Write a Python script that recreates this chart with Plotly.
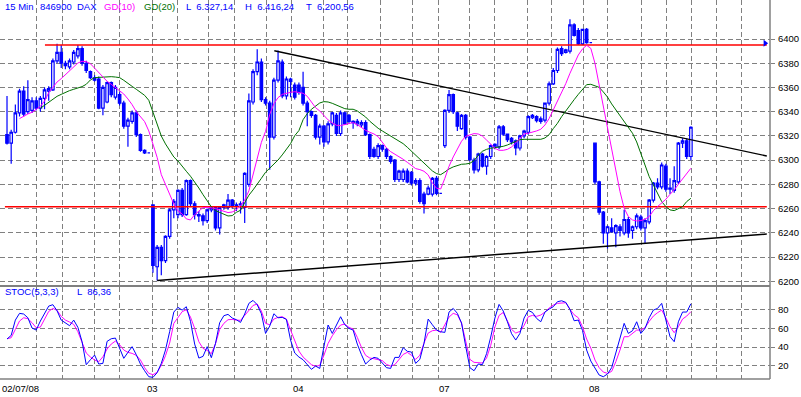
import plotly.graph_objects as go

# ---------------- DATA ----------------
# 15-min DAX candles, (open, high, low, close) per bar, grouped by trading day
day_0207 = [
    (6321, 6353, 6313, 6314), (6314, 6325, 6297, 6323), (6323, 6346, 6322, 6339), (6339, 6359, 6336, 6357),
    (6357, 6361, 6336, 6338), (6340, 6366, 6338, 6350), (6341, 6352, 6339, 6349), (6349, 6352, 6341, 6343),
    (6343, 6353, 6340, 6351), (6351, 6360, 6342, 6358), (6357, 6361, 6349, 6359), (6358, 6384, 6357, 6382),
    (6382, 6396, 6380, 6389), (6389, 6395, 6376, 6380), (6380, 6382, 6375, 6378), (6377, 6384, 6375, 6382),
    (6381, 6391, 6379, 6389), (6386, 6395, 6384, 6392), (6392, 6394, 6378, 6380), (6380, 6382, 6372, 6374),
    (6373, 6374, 6367, 6368), (6368, 6370, 6365, 6366), (6367, 6369, 6342, 6343), (6343, 6362, 6337, 6360),
    (6348, 6365, 6347, 6364), (6364, 6365, 6352, 6354), (6352, 6362, 6350, 6360), (6354, 6356, 6345, 6347),
    (6347, 6349, 6326, 6328), (6328, 6335, 6311, 6333), (6332, 6341, 6330, 6339), (6339, 6341, 6319, 6321),
    (6321, 6322, 6307, 6308), (6308, 6309, 6305, 6306), (6306, 6306, 6306, 6306),
]
day_0307 = [
    (6263, 6263, 6207, 6213), (6212, 6230, 6200.56, 6228), (6228, 6230, 6205, 6217), (6217, 6238, 6215, 6237),
    (6237, 6260, 6235, 6259), (6259, 6268, 6252, 6266), (6255, 6276, 6252, 6275), (6275, 6277, 6253, 6255),
    (6255, 6284, 6254, 6283), (6283, 6284, 6262, 6264), (6264, 6266, 6251, 6255), (6255, 6258, 6249, 6254),
    (6254, 6256, 6246, 6250), (6250, 6260, 6248, 6259), (6259, 6262, 6257, 6261), (6261, 6262, 6242, 6244),
    (6244, 6262, 6238.6, 6261), (6261, 6264, 6259, 6263), (6261, 6272, 6259, 6267), (6267, 6268, 6260, 6262),
    (6262, 6265, 6258, 6263), (6263, 6266, 6256, 6264), (6261, 6290, 6248, 6289), (6280, 6355, 6278, 6349),
    (6348, 6375, 6346, 6373), (6373, 6391.5, 6370, 6381), (6381, 6384, 6348, 6350), (6350, 6352, 6345, 6347),
    (6347, 6349, 6292, 6319), (6319, 6368, 6317, 6366), (6366, 6390.5, 6364, 6382), (6381, 6383, 6351, 6353),
    (6353, 6369, 6350, 6367), (6367, 6368, 6352, 6365), (6362, 6364, 6350, 6352),
]
day_0407 = [
    (6362, 6364, 6354, 6356), (6360, 6373, 6345, 6347), (6347, 6349, 6328, 6340), (6340, 6341, 6335, 6337),
    (6337, 6338, 6317, 6319), (6319, 6330, 6313, 6328), (6328, 6329, 6311, 6315), (6315, 6332, 6313, 6330),
    (6330, 6340, 6328, 6339), (6337, 6339, 6320, 6322), (6322, 6341, 6320, 6339), (6339, 6340, 6329, 6330),
    (6337, 6338, 6330, 6332), (6332, 6333, 6326, 6331), (6330, 6334, 6328, 6332), (6329, 6333, 6327, 6331),
    (6331, 6333, 6320, 6321), (6321, 6322, 6301, 6303), (6309, 6311, 6302, 6303), (6303, 6314, 6301, 6312),
    (6312, 6313, 6307, 6309), (6309, 6310, 6301, 6303), (6303, 6304, 6297, 6299), (6300, 6301, 6282, 6284),
    (6284, 6292, 6282, 6291), (6284, 6293, 6282, 6291), (6291, 6293, 6281, 6282), (6290, 6291, 6279, 6281),
    (6281, 6285, 6279, 6283), (6283, 6285, 6264, 6266), (6272, 6274, 6256, 6264), (6272, 6279, 6271, 6277),
    (6272, 6286, 6270, 6285), (6285, 6287, 6271, 6272.5), (6272.5, 6272.5, 6272.5, 6272.5),
]
day_0707 = [
    (6312, 6342, 6310, 6341), (6341, 6358, 6339, 6354), (6354, 6355, 6338, 6340), (6339, 6340, 6324, 6328),
    (6326, 6338, 6325, 6337), (6337, 6338, 6317, 6319), (6319, 6320, 6299, 6300.5), (6300, 6302, 6289, 6292),
    (6292, 6306, 6290, 6305), (6305, 6306, 6294, 6295), (6295, 6304, 6288, 6303), (6303, 6313, 6301, 6312),
    (6311, 6314, 6309, 6313), (6311, 6329, 6309, 6327.5), (6327.5, 6329, 6320, 6321.5), (6321.5, 6322, 6315, 6317),
    (6318, 6319, 6313, 6315), (6316, 6317, 6304, 6310), (6310, 6321, 6308, 6320), (6320, 6325, 6318, 6324),
    (6323, 6337, 6321, 6336), (6335, 6338, 6334, 6337), (6336, 6337, 6331, 6332.5), (6334, 6336, 6330, 6332),
    (6333, 6347, 6331, 6347), (6347, 6365, 6345, 6363), (6363, 6376, 6362, 6374), (6374, 6393, 6372, 6391.5),
    (6392, 6394, 6386, 6388), (6389, 6392, 6388, 6391), (6390, 6416.24, 6388, 6411.6), (6411.6, 6413, 6402, 6403),
    (6407, 6409, 6395, 6396), (6396, 6408.5, 6395, 6408), (6408, 6409, 6396, 6397), (6397, 6397, 6397, 6397),
]
day_0807 = [
    (6314, 6314, 6280, 6282), (6282, 6283, 6255, 6257), (6257, 6258, 6231, 6240), (6240, 6246, 6227, 6245),
    (6244, 6252, 6240, 6241), (6240, 6247, 6228, 6246), (6245, 6247, 6237, 6242), (6240, 6259, 6238, 6251),
    (6251, 6253, 6236, 6240), (6242, 6246, 6235, 6245), (6245, 6256, 6243, 6254), (6253, 6255, 6242, 6244),
    (6244, 6252, 6231, 6250), (6249, 6268, 6247, 6267), (6267, 6282, 6265, 6281), (6281, 6285, 6276, 6278),
    (6278, 6298, 6276, 6296), (6295, 6297, 6274, 6276), (6276, 6285, 6272, 6277), (6275, 6295, 6273, 6283),
    (6282, 6315, 6280, 6314), (6314, 6318, 6310, 6316), (6316, 6318, 6301, 6303), (6303, 6328, 6300, 6327.14),
]
days = [("02/07/08", day_0207), ("03", day_0307), ("04", day_0407), ("07", day_0707), ("08", day_0807)]

# GD(10) and GD(20) moving averages as drawn (None where not drawn)
gd10 = [None] * 3 + [
    6334.3, 6336.5, 6338.1, 6339.5, 6341.7, 6344.4, 6348.8, 6355.7, 6360.1, 6364.5, 6367.3, 6370.6, 6374.4,
    6377.7, 6380.2, 6381.6, 6381.3, 6379.6, 6376.1, 6372.2, 6368.4, 6365.1, 6362.6, 6360.1, 6357.6, 6354.6,
    6350.5, 6345.8, 6340.0, 6335.9, 6331.8, 6324.1, 6313.9, 6302.3, 6288.0, 6279.8, 6271.0, 6263.8, 6258.1,
    6255.6, 6251.5, 6250.6, 6255.0, 6258.3, 6260.8, 6261.1, 6260.8, 6260.0, 6258.9, 6257.8, 6256.7, 6257.2,
    6258.9, 6262.5, 6267.1, 6274.6, 6288.3, 6301.5, 6314.7, 6323.8, 6337.8, 6346.6, 6351.6, 6354.3, 6355.4,
    6356.0, 6356.5, 6355.7, 6355.2, 6352.7, 6348.3, 6343.3, 6340.6, 6336.5, 6333.2, 6330.7, 6328.8, 6328.5,
    6329.3, 6330.1, 6331.0, 6329.3, 6326.8, 6324.6, 6323.0, 6321.6, 6319.4, 6314.5, 6310.1, 6307.0, 6305.0,
    6303.4, 6300.7, 6298.2, 6295.5, 6293.0, 6292.2, 6290.8, 6287.8, 6281.2, 6276.8, 6276.2, 6285.0, 6294.9,
    6302.6, 6309.5, 6315.6, 6319.7, 6320.8, 6321.9, 6321.6, 6319.9, 6316.6, 6312.8, 6309.8, 6308.1, 6308.1,
    6308.9, 6310.9, 6314.2, 6318.0, 6321.6, 6322.2, 6323.0, 6324.1, 6325.5, 6329.0, 6334.3, 6341.4, 6348.3,
    6355.2, 6363.2, 6371.7, 6379.4, 6386.8, 6391.8, 6394.8, 6392.3, 6379.9, 6362.1, 6344.1, 6326.3, 6308.4,
    6290.5, 6274.0, 6260.3, 6253.4, 6250.6, 6249.8, 6250.1, 6251.2, 6253.4, 6258.3, 6261.6, 6264.4, 6267.7,
    6271.8, 6275.4, 6280.1, 6284.2, 6289.1, 6293.3,
]
gd20 = [None] * 8 + [
    6342.8, 6345.3, 6348.0, 6350.8, 6352.7, 6354.3, 6356.0, 6357.4, 6358.5, 6359.6, 6360.7, 6362.6, 6366.2,
    6368.1, 6368.4, 6368.6, 6368.9, 6368.9, 6368.6, 6368.1, 6365.9, 6363.1, 6360.9, 6358.5, 6356.3, 6353.5,
    6349.4, 6339.8, 6329.6, 6319.9, 6313.4, 6307.6, 6302.6, 6299.3, 6295.5, 6290.8, 6286.7, 6282.3, 6277.0,
    6271.5, 6266.9, 6261.4, 6258.3, 6256.7, 6255.3, 6253.9, 6254.2, 6256.9, 6258.6, 6265.2, 6271.0, 6275.4,
    6279.8, 6285.0, 6290.0, 6293.5, 6296.3, 6300.1, 6304.3, 6309.5, 6313.6, 6320.2, 6324.4, 6333.4, 6338.4,
    6342.0, 6345.0, 6347.2, 6348.3, 6348.0, 6346.9, 6345.5, 6344.2, 6342.5, 6342.0, 6342.0, 6340.6, 6338.4,
    6335.6, 6332.1, 6328.8, 6326.3, 6324.1, 6321.9, 6319.7, 6317.8, 6315.8, 6313.6, 6310.6, 6307.3, 6304.0,
    6300.4, 6297.1, 6293.8, 6291.1, 6288.9, 6288.0, 6290.2, 6292.7, 6294.4, 6295.5, 6296.6, 6296.8, 6297.4,
    6299.6, 6304.0, 6307.3, 6308.9, 6309.8, 6310.3, 6310.9, 6311.4, 6312.5, 6313.9, 6315.5, 6316.9, 6317.2,
    6317.2, 6317.2, 6317.2, 6317.2, 6318.3, 6321.0, 6326.0, 6330.4, 6335.9, 6340.9, 6345.8, 6349.9, 6354.3,
    6358.7, 6362.3, 6362.6, 6361.5, 6360.1, 6356.3, 6352.1, 6346.4, 6341.7, 6336.7, 6332.3, 6327.1, 6322.2,
    6315.0, 6305.4, 6294.6, 6286.4, 6279.5, 6272.6, 6265.8, 6261.6, 6258.9, 6258.3, 6259.7, 6261.6, 6265.8,
    6268.5,
]

# STOC(5,3,3): %K (blue) and %D (magenta)
stoc_k = [
    48.6, 52.5, 68.9, 76.1, 75.4, 71.4, 60.4, 58.2, 67.9, 76.8, 83.9, 85.4, 78.9, 68.9, 65.4, 62.9, 68.9, 61.1,
    45.7, 21.1, 26.4, 31.4, 21.8, 22.5, 46.1, 48.9, 49.6, 38.6, 27.9, 34.3, 40.4, 31.8, 21.8, 14.6, 8.2, 7.5,
    12.5, 22.5, 36.8, 56.4, 77.5, 82.5, 79.6, 83.2, 67.5, 43.2, 28.2, 30.0, 40.4, 28.6, 43.9, 66.1, 73.6, 75.0,
    71.1, 69.3, 66.4, 75.4, 86.8, 90.0, 85.4, 75.7, 54.6, 62.5, 75.7, 71.4, 71.8, 69.6, 47.5, 33.6, 29.3, 26.4,
    21.4, 16.1, 19.6, 17.1, 40.4, 63.6, 54.6, 64.3, 72.5, 64.0, 60.0, 58.2, 43.2, 31.8, 21.8, 26.1, 28.9, 27.9,
    22.5, 17.9, 17.1, 28.9, 28.9, 39.3, 35.4, 34.6, 22.5, 26.8, 43.9, 70.0, 63.9, 58.2, 56.4, 55.7, 77.5, 81.4,
    76.1, 65.7, 40.7, 17.9, 14.6, 21.8, 21.1, 32.9, 50.7, 71.1, 85.7, 78.6, 67.1, 54.3, 47.5, 54.6, 71.1, 79.3,
    77.1, 70.7, 67.1, 77.5, 80.7, 83.2, 88.6, 89.6, 87.9, 80.4, 68.2, 68.9, 57.9, 36.8, 25.0, 17.1, 10.0, 8.2,
    11.1, 17.9, 33.2, 47.5, 65.4, 54.6, 57.5, 67.1, 54.6, 60.0, 71.4, 79.6, 81.4, 86.8, 68.9, 51.1, 45.7, 67.1,
    77.5, 77.5, 86.36,
]
stoc_d = [
    48.9, 50.0, 58.9, 67.9, 71.4, 70.4, 66.1, 60.7, 61.4, 70.4, 78.2, 81.4, 79.3, 72.9, 68.9, 66.8, 64.3, 56.4,
    44.6, 33.6, 29.3, 26.1, 24.3, 29.6, 37.9, 43.2, 46.4, 42.5, 36.8, 34.3, 33.2, 31.1, 26.1, 17.9, 11.8, 10.4,
    12.9, 20.4, 30.7, 44.3, 65.4, 71.8, 77.9, 80.0, 72.1, 60.0, 45.7, 38.6, 36.4, 32.9, 43.6, 58.9, 65.4, 69.3,
    69.6, 68.9, 68.6, 73.9, 79.6, 84.6, 86.1, 78.6, 65.4, 63.9, 70.0, 71.8, 72.5, 70.0, 58.2, 46.1, 35.7, 29.3,
    25.0, 21.1, 19.3, 20.4, 31.1, 43.9, 52.1, 58.6, 63.6, 64.6, 61.1, 59.3, 50.4, 39.6, 31.1, 28.2, 27.5, 26.8,
    25.4, 21.4, 19.6, 21.1, 26.4, 32.1, 34.3, 31.1, 26.8, 31.1, 44.3, 55.0, 57.5, 58.2, 55.7, 63.9, 72.1, 76.1,
    74.6, 65.7, 44.6, 26.8, 23.6, 22.9, 22.9, 28.2, 41.8, 61.4, 73.9, 77.1, 68.2, 58.9, 55.0, 56.8, 63.2, 72.5,
    73.9, 72.9, 74.3, 77.5, 81.8, 85.0, 86.8, 87.5, 87.5, 80.4, 74.6, 71.4, 61.8, 48.6, 38.9, 26.1, 17.9, 13.2,
    11.8, 13.9, 24.3, 36.8, 51.1, 51.1, 54.6, 58.2, 58.2, 60.7, 67.5, 73.2, 76.8, 79.6, 71.4, 61.8, 55.4, 61.8,
    70.0, 73.2, 77.9,
]

# Horizontal levels and trend lines (bar index, price)
level_hi = 6395.0
level_lo = 6261.5
level_hi_x = [9.1, 182.2]
level_lo_x = [-0.5, 182.2]
trend_down_x = [64.1, 182.2]
trend_down_y = [6390.3, 6303.4]
trend_up_x = [36.0, 182.2]
trend_up_y = [6200.6, 6239.0]

price_ticks = list(range(6200, 6401, 20))
stoc_ticks = [20, 40, 60, 80]
# vertical dashed grid positions (in bar units)
grid_x = [7.19, 13.19, 21.10, 26.86, 34.77, 40.77, 48.20, 54.44, 62.11, 68.11, 75.78, 81.77, 89.45,
          97.12, 103.36, 110.79, 116.79, 124.70, 130.46, 138.13, 144.12, 152.04, 158.03, 164.03,
          170.02, 176.02]

# ---------------- BUILD ----------------
o, h, l, c, day_start = [], [], [], [], []
for name, rows in days:
    day_start.append((name, len(o)))
    for r in rows:
        o.append(r[0]); h.append(r[1]); l.append(r[2]); c.append(r[3])
x = list(range(len(o)))

BLUE = "#0000ff"
MAG = "#ff00ff"
GREEN = "#007000"
GRID = "#808080"
FONT = "Liberation Sans, Arial, sans-serif"

fig = go.Figure()
fig.add_trace(go.Scatter(x=level_lo_x, y=[level_lo, level_lo], mode="lines",
                         line=dict(color="#ff0000", width=1.5), hoverinfo="skip"))
fig.add_trace(go.Scatter(x=level_hi_x, y=[level_hi, level_hi], mode="lines",
                         line=dict(color="#ff0000", width=1.5), hoverinfo="skip"))
fig.add_trace(go.Scatter(x=trend_down_x, y=trend_down_y, mode="lines",
                         line=dict(color="black", width=1.3), hoverinfo="skip"))
fig.add_trace(go.Scatter(x=trend_up_x, y=trend_up_y, mode="lines",
                         line=dict(color="black", width=1.5), hoverinfo="skip"))
fig.add_trace(go.Scatter(x=x, y=gd20, mode="lines", line=dict(color=GREEN, width=1), connectgaps=False))
fig.add_trace(go.Scatter(x=x, y=gd10, mode="lines", line=dict(color=MAG, width=1), connectgaps=False))
fig.add_trace(go.Candlestick(
    x=x, open=o, high=h, low=l, close=c, whiskerwidth=0,
    increasing=dict(line=dict(color=BLUE, width=1.2), fillcolor="white"),
    decreasing=dict(line=dict(color=BLUE, width=1.2), fillcolor=BLUE),
))
fig.add_trace(go.Scatter(x=[level_hi_x[1] - 0.4], y=[level_hi + 1.5], mode="markers",
                         marker=dict(symbol="triangle-right", size=6, color=BLUE),
                         cliponaxis=False, hoverinfo="skip"))
fig.add_trace(go.Scatter(x=x, y=stoc_d, mode="lines", line=dict(color=MAG, width=1),
                         xaxis="x2", yaxis="y2"))
fig.add_trace(go.Scatter(x=x, y=stoc_k, mode="lines", line=dict(color=BLUE, width=1),
                         xaxis="x2", yaxis="y2"))

H_PLOT = 379.0
main_bottom = (H_PLOT - 285.5) / H_PLOT
stoc_top = (H_PLOT - 286.5) / H_PLOT
xr = [-1.68, 182.97]

axis_common = dict(showline=False, zeroline=False, automargin=False)
fig.update_layout(
    width=801, height=397,
    margin=dict(l=0, r=31, t=0, b=18, autoexpand=False),
    paper_bgcolor="white", plot_bgcolor="white",
    showlegend=False,
    boxgap=0.15,
    font=dict(family=FONT, size=9.5, color="black"),
    xaxis=dict(range=xr, domain=[0, 1], anchor="y", tickvals=grid_x, showticklabels=False,
               ticks="", showgrid=True, gridcolor=GRID, griddash="5px,3px", gridwidth=1,
               rangeslider=dict(visible=False), fixedrange=True, **axis_common),
    yaxis=dict(range=[6196.5, 6432.2], domain=[main_bottom, 1], anchor="x", side="right",
               tickvals=price_ticks, ticktext=[str(v) for v in price_ticks],
               ticks="outside", ticklen=4, tickcolor=GRID, ticklabelstandoff=1,
               showgrid=True, gridcolor=GRID, griddash="5px,3px", gridwidth=1,
               tickfont=dict(family=FONT, size=9.5, color="black"), **axis_common),
    xaxis2=dict(range=xr, domain=[0, 1], anchor="y2", matches="x", tickvals=grid_x,
                showticklabels=False, ticks="", showgrid=True, gridcolor=GRID,
                griddash="5px,3px", gridwidth=1, **axis_common),
    yaxis2=dict(range=[5.75, 104.9], domain=[0, stoc_top], anchor="x2", side="right",
                tickvals=stoc_ticks, ticks="outside", ticklen=4, tickcolor=GRID,
                ticklabelstandoff=1, showgrid=True, gridcolor=GRID, griddash="5px,3px",
                gridwidth=1, tickfont=dict(family=FONT, size=9.5, color="black"), **axis_common),
)

# panel borders
sep_y = (H_PLOT - 286.0) / H_PLOT
fig.add_shape(type="line", xref="paper", yref="paper", x0=0, x1=1, y0=sep_y, y1=sep_y,
              line=dict(color=GRID, width=2))
fig.add_shape(type="line", xref="paper", yref="paper", x0=0, x1=1, y0=0, y1=0,
              line=dict(color=GRID, width=1.5))
fig.add_shape(type="line", xref="paper", yref="paper", x0=1, x1=1, y0=0, y1=1,
              line=dict(color=GRID, width=1.5))

# header texts
def px_x(px):
    return px / 770.0

def px_y(py):
    return (H_PLOT - py) / H_PLOT

header = [("15 Min", 3, BLUE), ("846900", 38, BLUE), ("DAX", 75, BLUE), ("GD(10)", 102, MAG),
          ("GD(20)", 142, GREEN), ("L  6.327,14", 184, BLUE), ("H  6.416,24", 243, BLUE),
          ("T  6.200,56", 304, BLUE)]
for txt, px, col in header:
    fig.add_annotation(text=txt, xref="paper", yref="paper", x=px_x(px), y=px_y(6.7),
                       xanchor="left", yanchor="middle", showarrow=False,
                       font=dict(family=FONT, size=9.5, color=col))
for txt, px in [("STOC(5,3,3)", 3), ("L  86,36", 75)]:
    fig.add_annotation(text=txt, xref="paper", yref="paper", x=px_x(px), y=px_y(291),
                       xanchor="left", yanchor="middle", showarrow=False,
                       font=dict(family=FONT, size=9.5, color=BLUE))

# date labels
for k, (name, idx) in enumerate(day_start):
    if k == 0:
        fig.add_annotation(text=name, xref="paper", yref="paper", x=0, y=px_y(388.5),
                           xanchor="left", yanchor="middle", showarrow=False,
                           font=dict(family=FONT, size=9.5, color="black"))
    else:
        fig.add_annotation(text=name, xref="x2", yref="paper", x=idx, y=px_y(388.5),
                           xanchor="center", yanchor="middle", showarrow=False,
                           font=dict(family=FONT, size=9.5, color="black"))

fig.write_html("out.html", config={"displayModeBar": False},
               post_script="document.body.style.margin='0';document.body.style.overflow='hidden';")
